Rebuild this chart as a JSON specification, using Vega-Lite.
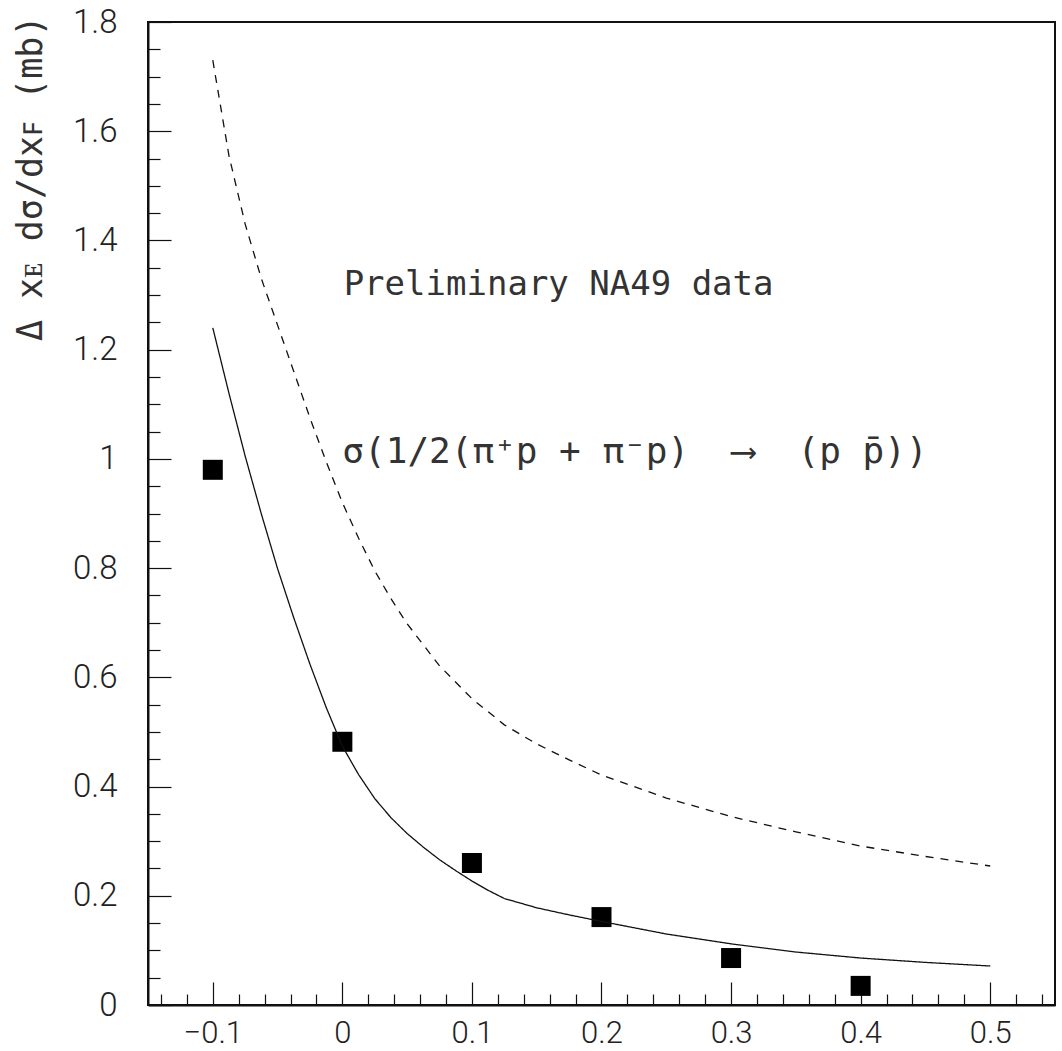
{
  "$schema": "https://vega.github.io/schema/vega-lite/v6.json",
  "width": 907,
  "height": 983,
  "autosize": {"type": "none"},
  "padding": {"left": 148, "top": 22, "right": 7, "bottom": 46},
  "config": {
    "view": {"stroke": "#111", "strokeWidth": 2},
    "font": "Roboto"
  },
  "datasets": {
    "points": [
      {"xF": -0.1, "sigma": 0.98},
      {"xF": 0.0, "sigma": 0.482},
      {"xF": 0.1, "sigma": 0.26},
      {"xF": 0.2, "sigma": 0.161},
      {"xF": 0.3, "sigma": 0.086},
      {"xF": 0.4, "sigma": 0.035}
    ],
    "curves": [
      {"curve": "fit", "xF": -0.1, "sigma": 1.24},
      {"curve": "fit", "xF": -0.0875, "sigma": 1.12},
      {"curve": "fit", "xF": -0.075, "sigma": 1.005},
      {"curve": "fit", "xF": -0.0625, "sigma": 0.899},
      {"curve": "fit", "xF": -0.05, "sigma": 0.799},
      {"curve": "fit", "xF": -0.0375, "sigma": 0.709},
      {"curve": "fit", "xF": -0.025, "sigma": 0.624},
      {"curve": "fit", "xF": -0.0125, "sigma": 0.545},
      {"curve": "fit", "xF": 0.0, "sigma": 0.474},
      {"curve": "fit", "xF": 0.0125, "sigma": 0.422},
      {"curve": "fit", "xF": 0.025, "sigma": 0.378},
      {"curve": "fit", "xF": 0.0375, "sigma": 0.343},
      {"curve": "fit", "xF": 0.05, "sigma": 0.314},
      {"curve": "fit", "xF": 0.0625, "sigma": 0.289},
      {"curve": "fit", "xF": 0.075, "sigma": 0.266},
      {"curve": "fit", "xF": 0.0875, "sigma": 0.246},
      {"curve": "fit", "xF": 0.1, "sigma": 0.227},
      {"curve": "fit", "xF": 0.1125, "sigma": 0.21},
      {"curve": "fit", "xF": 0.125, "sigma": 0.195},
      {"curve": "fit", "xF": 0.15, "sigma": 0.178},
      {"curve": "fit", "xF": 0.175, "sigma": 0.165},
      {"curve": "fit", "xF": 0.2, "sigma": 0.153},
      {"curve": "fit", "xF": 0.25, "sigma": 0.13},
      {"curve": "fit", "xF": 0.3, "sigma": 0.112},
      {"curve": "fit", "xF": 0.35, "sigma": 0.097},
      {"curve": "fit", "xF": 0.4, "sigma": 0.086},
      {"curve": "fit", "xF": 0.45, "sigma": 0.078},
      {"curve": "fit", "xF": 0.5, "sigma": 0.0714},
      {"curve": "model", "xF": -0.1, "sigma": 1.73},
      {"curve": "model", "xF": -0.0875, "sigma": 1.555},
      {"curve": "model", "xF": -0.075, "sigma": 1.43},
      {"curve": "model", "xF": -0.0625, "sigma": 1.33},
      {"curve": "model", "xF": -0.05, "sigma": 1.245},
      {"curve": "model", "xF": -0.0375, "sigma": 1.16},
      {"curve": "model", "xF": -0.025, "sigma": 1.075},
      {"curve": "model", "xF": -0.0125, "sigma": 0.995},
      {"curve": "model", "xF": 0.0, "sigma": 0.92},
      {"curve": "model", "xF": 0.0125, "sigma": 0.855},
      {"curve": "model", "xF": 0.025, "sigma": 0.795},
      {"curve": "model", "xF": 0.0375, "sigma": 0.744},
      {"curve": "model", "xF": 0.05, "sigma": 0.698},
      {"curve": "model", "xF": 0.075, "sigma": 0.621},
      {"curve": "model", "xF": 0.1, "sigma": 0.561},
      {"curve": "model", "xF": 0.125, "sigma": 0.513},
      {"curve": "model", "xF": 0.15, "sigma": 0.478},
      {"curve": "model", "xF": 0.175, "sigma": 0.449},
      {"curve": "model", "xF": 0.2, "sigma": 0.421},
      {"curve": "model", "xF": 0.25, "sigma": 0.379},
      {"curve": "model", "xF": 0.3, "sigma": 0.345},
      {"curve": "model", "xF": 0.35, "sigma": 0.317},
      {"curve": "model", "xF": 0.4, "sigma": 0.291},
      {"curve": "model", "xF": 0.45, "sigma": 0.272},
      {"curve": "model", "xF": 0.5, "sigma": 0.2545}
    ],
    "notes": [
      {"xF": 0.001, "sigma": 1.318, "text": "Preliminary NA49 data", "size": 34},
      {"xF": 0.0, "sigma": 1.012, "text": "σ(1/2(π⁺p + π⁻p)\u00a0 ⟶ \u00a0(p p̄))", "size": 36}
    ]
  },
  "layer": [
    {
      "data": {"name": "points"},
      "mark": {"type": "point", "shape": "square", "filled": true, "size": 400, "color": "#000", "opacity": 1},
      "encoding": {
        "x": {
          "field": "xF", "type": "quantitative",
          "scale": {"domain": [-0.15, 0.55], "nice": false, "zero": false},
          "axis": {
            "orient": "bottom",
            "values": [-0.1, 0, 0.1, 0.2, 0.3, 0.4, 0.5],
            "format": "~g",
            "tickSize": -23, "tickColor": "#111", "tickWidth": 1.2,
            "domainColor": "#111", "domainWidth": 2,
            "labelFont": "Roboto", "labelFontSize": 31, "labelFontWeight": 300, "labelColor": "#222",
            "labelPadding": 36, "labelFlush": false, "labelOverlap": false,
            "grid": false, "title": null
          }
        },
        "y": {
          "field": "sigma", "type": "quantitative",
          "scale": {"domain": [0, 1.8], "nice": false, "zero": false},
          "axis": {
            "orient": "left",
            "values": [0, 0.2, 0.4, 0.6, 0.8, 1, 1.2, 1.4, 1.6, 1.8],
            "format": "~g",
            "tickSize": -23, "tickColor": "#111", "tickWidth": 1.2,
            "domainColor": "#111", "domainWidth": 2,
            "labelFont": "Roboto", "labelFontSize": 33, "labelFontWeight": 300, "labelColor": "#222",
            "labelPadding": 54, "labelFlush": false, "labelOverlap": false,
            "grid": false,
            "title": "Δ xᴇ dσ/dxꜰ (mb)",
            "titleFont": "DejaVu Sans Mono", "titleFontSize": 35, "titleFontWeight": "normal", "titleColor": "#333",
            "titleAngle": -90, "titleX": -118, "titleY": -7, "titleAlign": "right", "titleBaseline": "middle"
          }
        }
      }
    },
    {
      "data": {"name": "curves"},
      "mark": {"type": "line", "strokeWidth": 1.3, "color": "#111"},
      "encoding": {
        "x": {
          "field": "xF", "type": "quantitative",
          "scale": {"domain": [-0.15, 0.55], "nice": false, "zero": false},
          "axis": {
            "orient": "bottom",
            "values": [-0.14, -0.12, -0.08, -0.06, -0.04, -0.02, 0.02, 0.04, 0.06, 0.08, 0.12, 0.14, 0.16, 0.18, 0.22, 0.24, 0.26, 0.28, 0.32, 0.34, 0.36, 0.38, 0.42, 0.44, 0.46, 0.48, 0.52, 0.54],
            "tickSize": -11, "tickColor": "#111", "tickWidth": 1.2,
            "labels": false, "domain": false, "grid": false, "title": null
          }
        },
        "y": {
          "field": "sigma", "type": "quantitative",
          "scale": {"domain": [0, 1.8], "nice": false, "zero": false},
          "axis": {
            "orient": "left",
            "values": [0.05, 0.1, 0.15, 0.25, 0.3, 0.35, 0.45, 0.5, 0.55, 0.65, 0.7, 0.75, 0.85, 0.9, 0.95, 1.05, 1.1, 1.15, 1.25, 1.3, 1.35, 1.45, 1.5, 1.55, 1.65, 1.7, 1.75],
            "tickSize": -12, "tickColor": "#111", "tickWidth": 1.2,
            "labels": false, "domain": false, "grid": false, "title": null
          }
        },
        "strokeDash": {
          "field": "curve", "type": "nominal",
          "scale": {"domain": ["fit", "model"], "range": [[1, 0], [8, 7]]},
          "legend": null
        }
      }
    },
    {
      "data": {"name": "notes"},
      "mark": {"type": "text", "align": "left", "baseline": "middle", "font": "DejaVu Sans Mono", "color": "#333"},
      "encoding": {
        "x": {"field": "xF", "type": "quantitative", "scale": {"domain": [-0.15, 0.55], "nice": false, "zero": false}, "axis": null},
        "y": {"field": "sigma", "type": "quantitative", "scale": {"domain": [0, 1.8], "nice": false, "zero": false}, "axis": null},
        "text": {"field": "text", "type": "nominal"},
        "size": {"field": "size", "type": "quantitative", "scale": null}
      }
    }
  ],
  "resolve": {"axis": {"x": "independent", "y": "independent"}}
}
